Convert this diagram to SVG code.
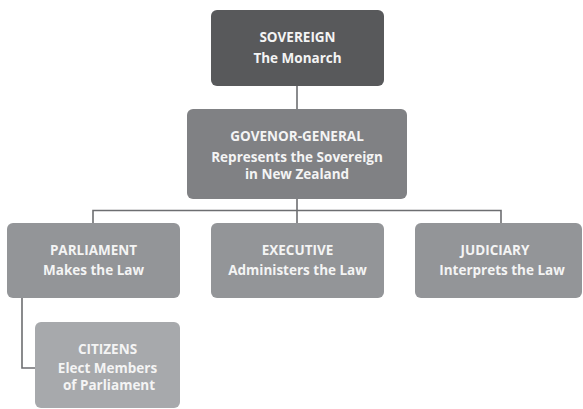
<svg xmlns="http://www.w3.org/2000/svg" width="583" height="409" viewBox="0 0 583 409">
  <style>
    .box { stroke: none; }
    .lvl0 { fill: #58595b; }
    .lvl1 { fill: #808184; }
    .lvl2 { fill: #939598; }
    .lvl3 { fill: #a7a9ac; }
    text { font-family: "Open Sans", "Liberation Sans", sans-serif; font-weight: bold; font-size: 13.5px; fill: #f4f4f4; text-anchor: middle; }
    .link { fill: none; stroke: #6d6e71; stroke-width: 1.6; }
  </style>
  <rect width="583" height="409" fill="#ffffff"/>

  <g id="connectors">
    <path class="link" d="M297 86 V110"/>
    <path class="link" d="M297 199 V223"/>
    <path class="link" d="M93 223 V210.5 H501 V223"/>
    <path class="link" d="M22 298 V368 H36"/>
  </g>

  <g id="sovereign">
    <rect class="box lvl0" x="211" y="10" width="173" height="76" rx="6"/>
    <text x="297.5" y="42">SOVEREIGN</text>
    <text x="297.5" y="63">The Monarch</text>
  </g>

  <g id="governor-general">
    <rect class="box lvl1" x="187" y="109" width="220" height="90" rx="6"/>
    <text x="297" y="141">GOVENOR-GENERAL</text>
    <text x="297" y="162">Represents the Sovereign</text>
    <text x="297" y="179">in New Zealand</text>
  </g>

  <g id="parliament">
    <rect class="box lvl2" x="7" y="223" width="173" height="75" rx="6"/>
    <text x="93.5" y="255">PARLIAMENT</text>
    <text x="93.5" y="275">Makes the Law</text>
  </g>

  <g id="executive">
    <rect class="box lvl2" x="211" y="223" width="173" height="75" rx="6"/>
    <text x="297.5" y="255">EXECUTIVE</text>
    <text x="297.5" y="275">Administers the Law</text>
  </g>

  <g id="judiciary">
    <rect class="box lvl2" x="415" y="223" width="167" height="75" rx="6"/>
    <text x="495" y="255">JUDICIARY</text>
    <text x="502" y="275">Interprets the Law</text>
  </g>

  <g id="citizens">
    <rect class="box lvl3" x="35" y="322" width="145" height="86" rx="6"/>
    <text x="107.5" y="354">CITIZENS</text>
    <text x="107.5" y="373">Elect Members</text>
    <text x="109" y="390">of Parliament</text>
  </g>
</svg>
